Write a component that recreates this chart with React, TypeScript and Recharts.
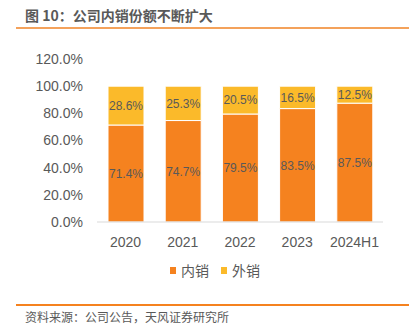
import React from 'react';
import { BarChart, Bar, XAxis, YAxis, LabelList } from 'recharts';

const categories = ['2020', '2021', '2022', '2023', '2024H1'];
const domestic = [71.4, 74.7, 79.5, 83.5, 87.5];
const overseas = [28.6, 25.3, 20.5, 16.5, 12.5];
const yTicks = [0, 20, 40, 60, 80, 100, 120];
const seriesNames = ['内销', '外销'];
const seriesColors = ['#F5821F', '#FBBA2A'];

const data = categories.map((c, i) => ({ name: c, domestic: domestic[i], overseas: overseas[i] }));

const FONT = '"Liberation Sans", "Noto Sans CJK SC", sans-serif';
const CJK = '"Noto Sans CJK SC", sans-serif';
const GRAY = '#595959';

export default function App() {
  return (
    <div style={{ position: 'absolute', left: 0, top: 0, width: 418, height: 325, background: '#fff', fontFamily: FONT }}>
      <div style={{ position: 'absolute', left: 25, top: 6, fontSize: 14, fontWeight: 'bold', color: GRAY, fontFamily: CJK, lineHeight: '18px' }}>
        图 10：公司内销份额不断扩大
      </div>
      <div style={{ position: 'absolute', left: 16, top: 27, width: 393, height: 2, background: '#F4A25B' }} />
      <div style={{ position: 'absolute', left: 0, top: 0 }}>
        <BarChart width={418} height={325} data={data} margin={{ top: 59, right: 35, bottom: 73, left: 0 }}>
          <XAxis
            dataKey="name"
            height={30}
            axisLine={{ stroke: '#D9D9D9' }}
            tickLine={false}
            interval={0}
            tick={{ fill: GRAY, fontSize: 14, fontFamily: FONT }}
            tickMargin={9}
          />
          <YAxis
            width={97}
            domain={[0, 120]}
            ticks={yTicks}
            interval={0}
            axisLine={false}
            tickLine={false}
            tickSize={0}
            tickMargin={14}
            tick={{ fill: GRAY, fontSize: 14, fontFamily: FONT }}
            tickFormatter={(v: number) => v.toFixed(1) + '%'}
          />
          <Bar dataKey="domestic" name={seriesNames[0]} stackId="a" fill={seriesColors[0]} stroke="#FFFFFF" strokeWidth={1} barSize={36} isAnimationActive={false}>
            <LabelList dataKey="domestic" position="center" fill={GRAY} fontSize={12} fontFamily={FONT} formatter={(v: number) => v.toFixed(1) + '%'} />
          </Bar>
          <Bar dataKey="overseas" name={seriesNames[1]} stackId="a" fill={seriesColors[1]} stroke="#FFFFFF" strokeWidth={1} barSize={36} isAnimationActive={false}>
            <LabelList dataKey="overseas" position="center" fill={GRAY} fontSize={12} fontFamily={FONT} formatter={(v: number) => v.toFixed(1) + '%'} />
          </Bar>
        </BarChart>
      </div>
      <div style={{ position: 'absolute', left: 170, top: 261, display: 'flex', alignItems: 'center', fontSize: 14, color: GRAY, fontFamily: CJK, lineHeight: '18px' }}>
        {seriesNames.map((n, i) => (
          <div key={n} style={{ display: 'flex', alignItems: 'center', marginRight: i === 0 ? 12 : 0 }}>
            <span style={{ display: 'inline-block', width: 6, height: 7, background: seriesColors[i], marginRight: 5 }} />
            <span>{n}</span>
          </div>
        ))}
      </div>
      <div style={{ position: 'absolute', left: 16, top: 304, width: 393, height: 2, background: '#F5821F' }} />
      <div style={{ position: 'absolute', left: 25, top: 309, fontSize: 12, color: GRAY, fontFamily: CJK, lineHeight: '16px' }}>
        资料来源：公司公告，天风证券研究所
      </div>
    </div>
  );
}
